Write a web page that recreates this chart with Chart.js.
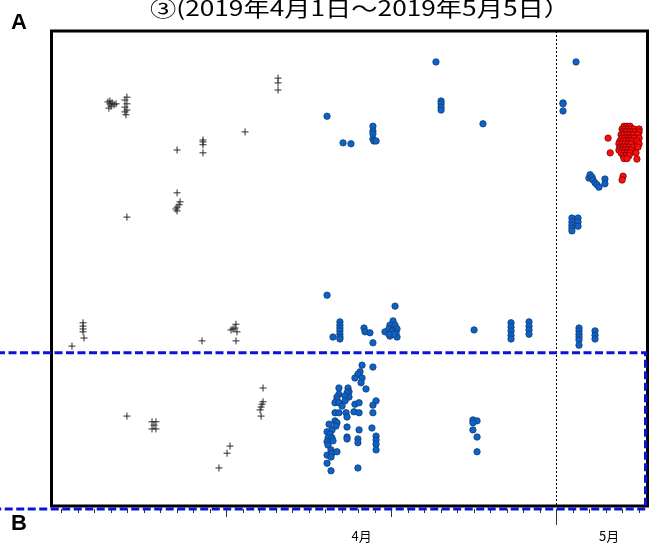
<!DOCTYPE html>
<html>
<head>
<meta charset="utf-8">
<script src="https://cdn.jsdelivr.net/npm/chart.js@4.4.1/dist/chart.umd.min.js"></script>
<style>
  html, body { margin: 0; padding: 0; background: #fff; }
  #wrap { width: 654px; height: 546px; }
</style>
</head>
<body>
<div id="wrap"><canvas id="c" width="654" height="546"></canvas></div>
<script>
// Title and axis text
const chartTitle = '③(2019年4月1日～2019年5月5日）';
const panelLabels = ['A', 'B'];
const monthLabels = ['4月', '5月'];
const monthLabelDays = [19.2, 34.2];   // where the month names sit on the day axis
const dayTicks = Array.from({ length: 36 }, (_, i) => i + 1); // one tick per day (April 1 = 1)
const majorTickDays = [11, 21, 31];    // 4/11, 4/21, 5/1
const mayStartDay = 31;                // dotted divider: May 1

// Series 1: "+" markers (day of period, level)
const crossDay = [
  3.83, 3.95, 4.08, 4.02, 3.89, 4.20, 4.32, 3.95,
  4.98, 4.86, 4.98, 4.86, 4.98, 4.86, 4.92,
  14.14, 14.14, 14.14,
  12.14,
  9.59, 9.59, 9.59, 9.59,
  8.02,
  8.02, 8.20, 8.14, 8.02, 7.95, 8.02,
  4.98,
  1.65,
  2.32, 2.32, 2.32, 2.32, 2.38,
  9.53,
  11.41, 11.59, 11.53, 11.65, 11.29, 11.59,
  4.98,
  6.50, 6.74, 6.50, 6.74, 6.62,
  13.23, 13.23, 13.17, 13.11, 13.05, 13.11,
  11.23, 11.05, 10.56
];
const crossLevel = [
  85.1, 84.7, 84.9, 84.2, 83.8, 84.5, 84.7, 85.3,
  86.1, 85.5, 84.7, 84.0, 83.4, 83.0, 82.4,
  90.1, 89.1, 87.6,
  78.8,
  77.1, 76.7, 76.1, 74.4,
  75.0,
  66.0, 64.1, 63.5, 63.0, 62.6, 62.2,
  60.9,
  33.8,
  38.7, 38.0, 37.4, 36.8, 35.5,
  34.9,
  37.4, 38.4, 37.6, 36.8, 37.2, 34.9,
  19.1,
  17.9, 17.9, 16.4, 16.4, 17.2,
  25.0, 22.1, 21.6, 21.0, 20.4, 19.1,
  12.8, 11.3, 8.2
];

// Series 2: blue circles
const blueDay = [
  23.71, 24.02, 24.02, 24.02, 24.02, 17.11, 26.56,
  19.89, 19.89, 19.89, 19.89, 19.95, 20.08, 18.08, 18.56,
  32.20, 31.41, 31.41, 31.41,
  32.98, 33.05, 33.17, 33.23, 33.35, 33.47, 33.59, 33.95, 33.95,
  31.95, 31.95, 31.95, 31.95, 31.95, 32.32, 32.32, 32.32,
  17.11, 21.23,
  17.89, 17.89, 17.89, 17.89, 17.89, 17.89, 17.89, 17.47,
  19.35, 19.41, 19.71, 19.89, 20.62,
  21.11, 20.92, 21.23, 20.86, 21.35, 21.05, 21.29, 20.92, 21.35, 21.17, 20.86,
  26.02,
  28.26, 28.26, 28.26, 28.26, 28.26,
  29.35, 29.35, 29.35, 29.35,
  32.38, 32.38, 32.38, 32.38, 32.38, 32.38,
  33.35, 33.35, 33.35,
  19.23, 19.89, 19.11, 18.98, 18.80, 19.23, 19.17, 19.47,
  17.83, 18.38, 18.44, 18.32, 17.83, 18.44, 18.20, 17.71,
  17.71, 17.59, 17.83, 18.02, 18.20, 18.80, 19.05, 20.08, 19.89,
  17.59, 17.83, 18.26, 18.74, 19.05, 19.89, 18.32,
  17.59, 17.71, 17.23, 17.65, 17.41,
  18.32, 19.05, 19.83,
  17.11, 17.29, 17.17, 17.41, 17.11, 17.47,
  18.32, 18.32, 18.98, 18.98, 20.08, 20.08, 20.08, 20.08,
  17.17, 17.35, 17.11, 17.41, 17.71, 17.35, 17.11,
  18.98, 17.35,
  25.95, 26.20, 25.95, 25.95, 26.20, 26.20
];
const blueLevel = [
  93.5, 85.3, 84.7, 84.0, 83.4, 82.1, 80.5,
  80.0, 79.0, 78.4, 77.3, 76.9, 76.9, 76.5, 76.3,
  93.5, 84.9, 84.7, 83.2,
  69.1, 69.8, 69.3, 68.7, 68.1, 67.7, 67.2, 68.9, 67.9,
  60.7, 59.9, 59.2, 58.6, 58.0, 60.7, 59.9, 59.0,
  44.5, 42.2,
  38.9, 38.2, 37.6, 37.0, 36.3, 35.7, 35.3, 35.7,
  37.6, 36.8, 36.6, 34.5, 36.8,
  39.1, 38.2, 38.2, 37.4, 37.4, 37.0, 36.6, 35.9, 35.7, 36.3, 36.3,
  37.2,
  38.7, 37.8, 37.0, 36.1, 35.3,
  38.9, 38.0, 37.2, 36.3,
  37.6, 37.0, 36.3, 35.7, 35.1, 34.0,
  37.0, 36.1, 35.3,
  29.8, 29.4, 28.4, 27.9, 27.1, 27.1, 26.1, 24.8,
  25.0, 25.0, 24.2, 24.0, 23.7, 23.1, 23.3, 23.1,
  22.5, 21.9, 21.9, 21.2, 22.3, 21.6, 21.9, 22.3, 21.4,
  19.8, 19.8, 19.8, 20.0, 19.8, 19.8, 18.9,
  18.1, 17.7, 17.4, 17.0, 16.2,
  16.8, 16.2, 16.6,
  15.8, 15.3, 14.5, 14.5, 13.7, 13.9,
  14.7, 14.3, 14.3, 13.5, 14.9, 14.1, 13.2, 12.0,
  13.0, 12.0, 10.9, 11.3, 11.6, 10.5, 9.2,
  8.2, 7.6,
  18.3, 18.1, 17.7, 16.2, 14.7, 11.6
];

// Series 3: red circles (early May cluster)
const redDay = [
  35.11, 35.29, 35.47,
  34.99, 35.17, 35.35, 35.53, 35.71, 36.02,
  35.05, 35.23, 35.41, 35.59, 35.77, 36.02,
  34.93, 35.11, 35.29, 35.47, 35.65, 35.95,
  34.99, 35.17, 35.35, 35.53, 35.71, 36.02,
  34.86, 35.05, 35.23, 35.41, 35.59, 35.89,
  34.80, 34.99, 35.17, 35.35, 35.53, 36.02,
  34.86, 35.05, 35.23, 35.41, 35.65, 35.95,
  34.80, 34.99, 35.17, 35.35, 35.53,
  34.93, 35.11, 35.29, 35.47, 35.83,
  35.05, 35.23, 35.41,
  35.11, 35.29,
  34.14, 34.27, 35.89, 35.05, 34.99
];
const redLevel = [
  80.0, 80.0, 80.0,
  79.4, 79.4, 79.4, 79.4, 79.4, 79.4,
  78.8, 78.8, 78.8, 78.8, 78.8, 78.8,
  78.2, 78.2, 78.2, 78.2, 78.2, 78.2,
  77.5, 77.5, 77.5, 77.5, 77.5, 77.5,
  76.9, 76.9, 76.9, 76.9, 76.9, 76.9,
  76.3, 76.3, 76.3, 76.3, 76.3, 76.3,
  75.6, 75.6, 75.6, 75.6, 75.6, 75.6,
  75.0, 75.0, 75.0, 75.0, 75.0,
  74.4, 74.4, 74.4, 74.4, 74.4,
  73.8, 73.8, 73.8,
  73.2, 73.2,
  77.5, 74.4, 73.1, 69.5, 68.7
];

// Highlighted band (level range) outlined with a dashed box
const bandTopLevel = 32.4;

const toPoints = (xs, ys) => xs.map((x, i) => ({ x, y: ys[i] }));

const decorations = {
  id: 'decorations',
  beforeDraw(chart) {
    const { ctx } = chart;
    ctx.save();
    ctx.fillStyle = '#fff';
    ctx.fillRect(0, 0, chart.width, chart.height);
    ctx.restore();
  },
  afterDatasetsDraw(chart) {
    const { ctx, chartArea: a, scales: { x, y } } = chart;
    ctx.save();

    // dotted divider at the start of May
    const xm = Math.round(x.getPixelForValue(mayStartDay)) + 0.5;
    ctx.strokeStyle = '#000';
    ctx.lineWidth = 1;
    ctx.setLineDash([2, 2]);
    ctx.beginPath();
    ctx.moveTo(xm, a.top);
    ctx.lineTo(xm, a.bottom);
    ctx.stroke();
    ctx.setLineDash([]);

    // plot frame
    ctx.lineWidth = 3;
    ctx.strokeStyle = '#000';
    ctx.strokeRect(a.left - 1.5, a.top, a.right - a.left + 2, a.bottom - a.top - 1);

    // day ticks below the frame
    ctx.lineWidth = 1;
    ctx.strokeStyle = '#333';
    dayTicks.forEach(d => {
      const px = Math.round(x.getPixelForValue(d)) + 0.5;
      let len = 4;
      if (majorTickDays.includes(d)) len = d === mayStartDay ? 16 : 8;
      ctx.beginPath();
      ctx.moveTo(px, a.bottom + 2);
      ctx.lineTo(px, a.bottom + 2 + len);
      ctx.stroke();
    });

    // month names
    ctx.fillStyle = '#000';
    ctx.font = '13px "Noto Sans CJK JP", sans-serif';
    ctx.textAlign = 'center';
    ctx.textBaseline = 'middle';
    monthLabels.forEach((t, i) => {
      ctx.fillText(t, x.getPixelForValue(monthLabelDays[i]), a.bottom + 29);
    });

    // dashed highlight box (left side runs off the canvas edge)
    const yb = y.getPixelForValue(bandTopLevel);
    ctx.strokeStyle = '#0a14d8';
    ctx.lineWidth = 3;
    ctx.setLineDash([8, 3.5]);
    ctx.strokeRect(-3, yb, a.right + 1.5, a.bottom + 2 - yb);
    ctx.setLineDash([]);

    // panel letters
    ctx.font = 'bold 22px "Liberation Sans", Arial, sans-serif';
    ctx.textAlign = 'left';
    ctx.textBaseline = 'alphabetic';
    ctx.fillText(panelLabels[0], 11, 29);
    ctx.fillText(panelLabels[1], 11, 530);

    // title, stretched to its set width
    ctx.font = '21px "Noto Sans CJK JP", sans-serif';
    const w = ctx.measureText(chartTitle).width;
    const targetW = 420;
    ctx.translate(150, 16);
    ctx.scale(targetW / w, 1);
    ctx.textAlign = 'left';
    ctx.fillText(chartTitle, 0, 0);

    ctx.restore();
  }
};

new Chart(document.getElementById('c'), {
  type: 'scatter',
  data: {
    datasets: [
      {
        label: '+',
        data: toPoints(crossDay, crossLevel),
        pointStyle: 'cross',
        radius: 3.5,
        borderColor: '#2a2a2a',
        borderWidth: 1
      },
      {
        label: 'blue',
        data: toPoints(blueDay, blueLevel),
        pointStyle: 'circle',
        radius: 3.2,
        backgroundColor: '#0b63c9',
        borderColor: '#163c72',
        borderWidth: 0.8
      },
      {
        label: 'red',
        data: toPoints(redDay, redLevel),
        pointStyle: 'circle',
        radius: 3.2,
        backgroundColor: '#ff0d0d',
        borderColor: '#7a0000',
        borderWidth: 0.8
      }
    ]
  },
  options: {
    responsive: false,
    animation: false,
    layout: { padding: { left: 53, right: 7, top: 31, bottom: 39 } },
    plugins: { legend: { display: false }, tooltip: { enabled: false } },
    scales: {
      x: { type: 'linear', min: 0.5, max: 36.5, display: false },
      y: { type: 'linear', min: 0, max: 100, display: false }
    }
  },
  plugins: [decorations]
});
</script>
</body>
</html>
